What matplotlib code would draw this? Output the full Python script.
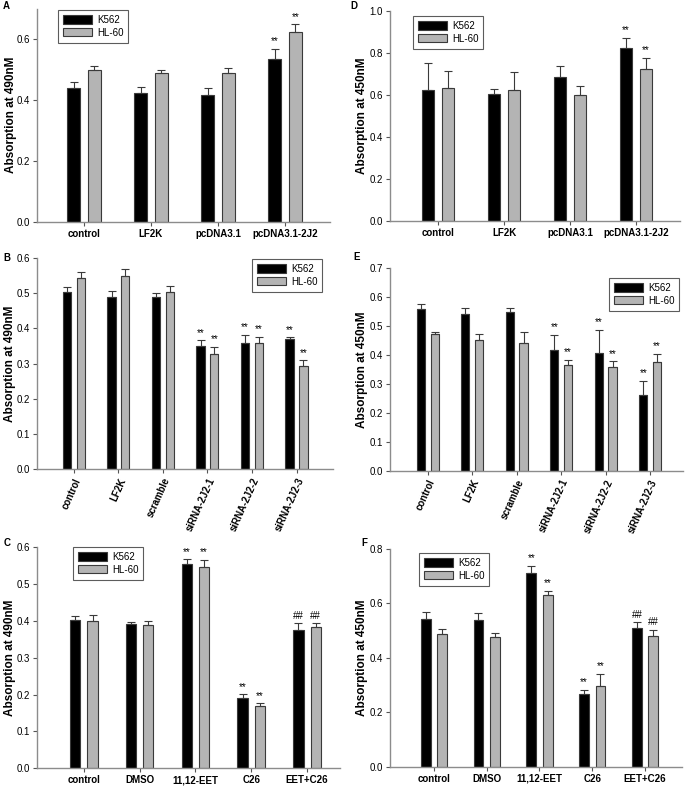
import matplotlib
matplotlib.use("Agg")
import matplotlib.pyplot as plt
from matplotlib.patches import Patch
import numpy as np

plt.rcParams['font.family'] = ['Liberation Sans', 'DejaVu Sans']

series_names = ["K562", "HL-60"]

# Panel A
cats_A = ["control", "LF2K", "pcDNA3.1", "pcDNA3.1-2J2"]
k562_A = [0.440, 0.423, 0.416, 0.534]
hl60_A = [0.497, 0.487, 0.490, 0.623]
k562_A_err = [0.020, 0.018, 0.022, 0.034]
hl60_A_err = [0.013, 0.013, 0.016, 0.025]
k562_A_sig = ["", "", "", "**"]
hl60_A_sig = ["", "", "", "**"]

# Panel D
cats_D = ["control", "LF2K", "pcDNA3.1", "pcDNA3.1-2J2"]
k562_D = [0.623, 0.607, 0.688, 0.826]
hl60_D = [0.634, 0.625, 0.601, 0.726]
k562_D_err = [0.130, 0.024, 0.053, 0.048]
hl60_D_err = [0.081, 0.084, 0.044, 0.051]
k562_D_sig = ["", "", "", "**"]
hl60_D_sig = ["", "", "", "**"]

# Panel B
cats_B = ["control", "LF2K", "scramble", "siRNA-2J2-1", "siRNA-2J2-2", "siRNA-2J2-3"]
k562_B = [0.504, 0.488, 0.488, 0.351, 0.360, 0.369]
hl60_B = [0.542, 0.548, 0.503, 0.328, 0.360, 0.292]
k562_B_err = [0.015, 0.019, 0.012, 0.015, 0.022, 0.006]
hl60_B_err = [0.018, 0.020, 0.017, 0.019, 0.016, 0.018]
k562_B_sig = ["", "", "", "**", "**", "**"]
hl60_B_sig = ["", "", "", "**", "**", "**"]

# Panel E
cats_E = ["control", "LF2K", "scramble", "siRNA-2J2-1", "siRNA-2J2-2", "siRNA-2J2-3"]
k562_E = [0.559, 0.543, 0.549, 0.418, 0.408, 0.263]
hl60_E = [0.472, 0.451, 0.443, 0.366, 0.359, 0.376]
k562_E_err = [0.016, 0.018, 0.013, 0.053, 0.080, 0.048]
hl60_E_err = [0.008, 0.021, 0.038, 0.018, 0.020, 0.028]
k562_E_sig = ["", "", "", "**", "**", "**"]
hl60_E_sig = ["", "", "", "**", "**", "**"]

# Panel C
cats_C = ["control", "DMSO", "11,12-EET", "C26", "EET+C26"]
k562_C = [0.402, 0.391, 0.554, 0.190, 0.376]
hl60_C = [0.399, 0.389, 0.547, 0.169, 0.384]
k562_C_err = [0.012, 0.005, 0.013, 0.011, 0.018]
hl60_C_err = [0.017, 0.010, 0.019, 0.007, 0.010]
k562_C_sig = ["", "", "**", "**", "##"]
hl60_C_sig = ["", "", "**", "**", "##"]

# Panel F
cats_F = ["control", "DMSO", "11,12-EET", "C26", "EET+C26"]
k562_F = [0.544, 0.538, 0.713, 0.266, 0.509]
hl60_F = [0.487, 0.475, 0.630, 0.297, 0.480]
k562_F_err = [0.023, 0.026, 0.025, 0.016, 0.022]
hl60_F_err = [0.018, 0.018, 0.015, 0.043, 0.022]
k562_F_sig = ["", "", "**", "**", "##"]
hl60_F_sig = ["", "", "**", "**", "##"]

W, H = 685, 786
fig = plt.figure(figsize=(W / 100, H / 100), dpi=100)

BLACK = "#000000"
GREY = "#b4b4b4"
EDGE = "#3a3a3a"
SPINE = "#8c8c8c"


def px_axes(x0, x1, ytop, ybot):
    return fig.add_axes([x0 / W, 1 - ybot / H, (x1 - x0) / W, (ybot - ytop) / H])


def panel(rect, cats, k, h, ke, he, ks, hs, ylim, ystep, xlim, ylabel,
          letter, letter_xy, legend_rect, rotate=False, ylabel_x=10):
    ax = px_axes(*rect)
    x = np.arange(len(cats))
    off, bw = 0.155, 0.185
    ax.bar(x - off, k, bw, color=BLACK, edgecolor=EDGE, linewidth=0.8, zorder=2)
    ax.bar(x + off, h, bw, color=GREY, edgecolor=EDGE, linewidth=0.8, zorder=2)
    ax.errorbar(x - off, k, yerr=[np.zeros(len(k)), ke], fmt="none",
                ecolor=EDGE, elinewidth=0.8, capsize=2.6, capthick=0.8, zorder=3)
    ax.errorbar(x + off, h, yerr=[np.zeros(len(h)), he], fmt="none",
                ecolor=EDGE, elinewidth=0.8, capsize=2.6, capthick=0.8, zorder=3)
    pad = (ylim[1] - ylim[0]) * 0.012
    for xi, v, e, s in zip(x - off, k, ke, ks):
        if s:
            ax.text(xi, v + e + pad, s, ha="center", va="bottom", fontsize=7)
    for xi, v, e, s in zip(x + off, h, he, hs):
        if s:
            ax.text(xi, v + e + pad, s, ha="center", va="bottom", fontsize=7)
    ax.set_xlim(*xlim)
    ax.set_ylim(*ylim)
    ticks = np.arange(0, ylim[1] + 1e-9, ystep)
    ax.set_yticks(ticks)
    ax.set_yticklabels([f"{t:.1f}" for t in ticks], fontsize=7)
    ax.set_xticks(x)
    if rotate:
        ax.set_xticklabels(cats, fontsize=7, fontweight="bold", rotation=66,
                           ha="right", va="top", rotation_mode="anchor")
    else:
        ax.set_xticklabels(cats, fontsize=7, fontweight="bold")
    for side in ("top", "right"):
        ax.spines[side].set_visible(False)
    for side in ("left", "bottom"):
        ax.spines[side].set_color(SPINE)
        ax.spines[side].set_linewidth(1.0)
    ax.tick_params(direction="out", length=3, width=0.8, color="#555555", pad=2)
    fig.text(ylabel_x / W, 1 - (rect[2] + rect[3]) / 2 / H, ylabel, rotation=90,
             ha="center", va="center", fontsize=8.5, fontweight="bold")
    fig.text(letter_xy[0] / W, 1 - letter_xy[1] / H, letter, fontsize=7,
             fontweight="bold", ha="left", va="center")
    handles = [Patch(facecolor=BLACK, edgecolor=EDGE, linewidth=0.8),
               Patch(facecolor=GREY, edgecolor=EDGE, linewidth=0.8)]
    lx0, ly0, lx1, ly1 = legend_rect
    leg = fig.legend(handles, series_names, loc="upper left",
                     bbox_to_anchor=(lx0 / W, 1 - ly0 / H), fontsize=7,
                     frameon=True, fancybox=False, borderpad=0.5,
                     handlelength=3.0, handleheight=0.9, handletextpad=0.5,
                     labelspacing=0.3, borderaxespad=0)
    leg.get_frame().set_edgecolor("#333333")
    leg.get_frame().set_linewidth(0.8)
    return ax


panel((37, 330, 8.5, 222), cats_A, k562_A, hl60_A, k562_A_err, hl60_A_err,
      k562_A_sig, hl60_A_sig, (0, 0.7), 0.2, (-0.7, 3.67),
      "Absorption at 490nM", "A", (3, 6), (58, 10, 127, 42), ylabel_x=11)
panel((390, 680, 11.3, 221), cats_D, k562_D, hl60_D, k562_D_err, hl60_D_err,
      k562_D_sig, hl60_D_sig, (0, 1.0), 0.2, (-0.73, 3.67),
      "Absorption at 450nM", "D", (350, 6), (413, 16, 475, 49), ylabel_x=362)
panel((37, 333, 258, 469.3), cats_B, k562_B, hl60_B, k562_B_err, hl60_B_err,
      k562_B_sig, hl60_B_sig, (0, 0.6), 0.1, (-0.83, 5.82),
      "Absorption at 490nM", "B", (3, 258), (252, 259, 310, 289), rotate=True,
      ylabel_x=10)
panel((390, 683, 268.3, 470.7), cats_E, k562_E, hl60_E, k562_E_err, hl60_E_err,
      k562_E_sig, hl60_E_sig, (0, 0.7), 0.1, (-0.85, 5.74),
      "Absorption at 450nM", "E", (353, 257), (609, 278, 668, 309), rotate=True,
      ylabel_x=362)
panel((37, 340, 547.3, 768.3), cats_C, k562_C, hl60_C, k562_C_err, hl60_C_err,
      k562_C_sig, hl60_C_sig, (0, 0.6), 0.1, (-0.84, 4.59),
      "Absorption at 490nM", "C", (4, 543), (73, 547, 144, 582), ylabel_x=10)
panel((390, 682, 549, 766.7), cats_F, k562_F, hl60_F, k562_F_err, hl60_F_err,
      k562_F_sig, hl60_F_sig, (0, 0.8), 0.2, (-0.83, 4.7),
      "Absorption at 450nM", "F", (361, 543), (419, 553, 477, 587), ylabel_x=362)

fig.savefig("out.png", dpi=100)
